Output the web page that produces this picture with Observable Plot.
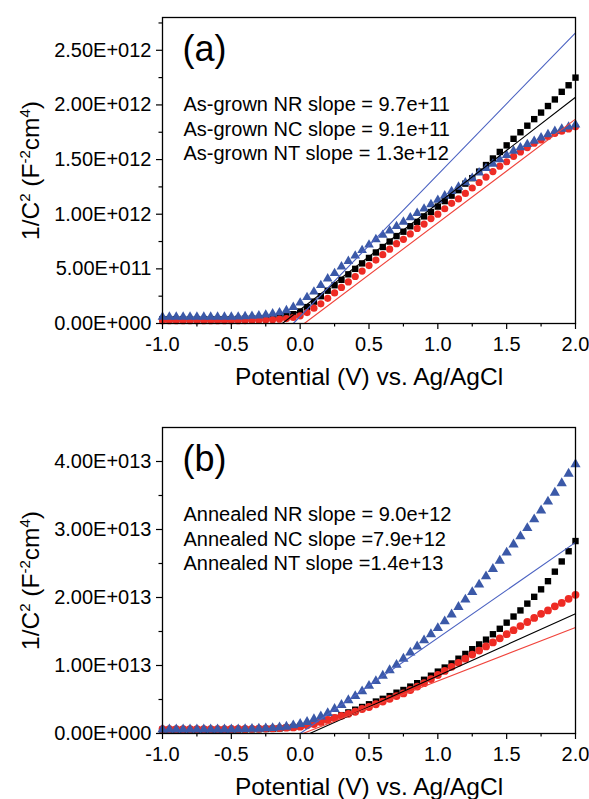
<!DOCTYPE html>
<html><head><meta charset="utf-8">
<script src="https://cdn.jsdelivr.net/npm/d3@7"></script>
<script src="https://cdn.jsdelivr.net/npm/@observablehq/plot@0.6"></script>
<style>
html,body{margin:0;padding:0;background:#fff;}
#chart{width:589px;height:799px;font-family:"Liberation Sans",Arial,sans-serif;}
#chart svg{display:block;}
</style></head><body><div id="chart"></div>
<script>
// Potential (V) vs Ag/AgCl
const potentials = [-1.0,-0.95,-0.9,-0.85,-0.8,-0.75,-0.7,-0.65,-0.6,-0.55,
  -0.5,-0.45,-0.4,-0.35,-0.3,-0.25,-0.2,-0.15,-0.1,-0.05,
  0.0,0.05,0.1,0.15,0.2,0.25,0.3,0.35,0.4,0.45,
  0.5,0.55,0.6,0.65,0.7,0.75,0.8,0.85,0.9,0.95,
  1.0,1.05,1.1,1.15,1.2,1.25,1.3,1.35,1.4,1.45,
  1.5,1.55,1.6,1.65,1.7,1.75,1.8,1.85,1.9,1.95,2.0];

const seriesNames = ["NR","NC","NT"];
const seriesColors = ["#000000","#ee2b24","#3b59a8"];
const fitColors = ["#000000","#f0443c","#4c63c2"];
const seriesSymbols = ["square","circle","triangle"];

// Panel (a): as-grown, 1/C^2 in units of 1e12
const nrA = [0.04,0.04,0.04,0.04,0.04,0.04,0.04,0.04,0.04,0.04,
  0.04,0.042,0.044,0.046,0.048,0.05,0.055,0.06,0.07,0.085,
  0.11,0.15,0.20,0.25,0.30,0.35,0.40,0.45,0.50,0.55,
  0.60,0.65,0.70,0.75,0.80,0.84,0.89,0.93,0.98,1.02,
  1.07,1.12,1.17,1.22,1.28,1.33,1.39,1.45,1.51,1.57,
  1.63,1.69,1.75,1.81,1.87,1.93,1.99,2.05,2.12,2.18,2.25];
const ncA = [0.025,0.025,0.025,0.025,0.025,0.025,0.025,0.025,0.025,0.025,
  0.025,0.026,0.027,0.028,0.03,0.032,0.035,0.04,0.045,0.055,
  0.07,0.10,0.14,0.18,0.23,0.28,0.33,0.38,0.43,0.48,
  0.53,0.58,0.63,0.68,0.73,0.77,0.82,0.87,0.91,0.96,
  1.00,1.05,1.10,1.14,1.19,1.24,1.29,1.34,1.39,1.44,
  1.48,1.53,1.57,1.61,1.65,1.68,1.71,1.74,1.76,1.78,1.80];
const ntA = [0.06,0.06,0.06,0.06,0.06,0.06,0.06,0.06,0.06,0.06,
  0.06,0.062,0.065,0.068,0.072,0.08,0.09,0.10,0.12,0.15,
  0.19,0.24,0.29,0.35,0.41,0.46,0.52,0.57,0.62,0.67,
  0.72,0.77,0.81,0.85,0.89,0.93,0.97,1.01,1.05,1.09,
  1.13,1.17,1.21,1.25,1.29,1.33,1.38,1.42,1.46,1.50,
  1.54,1.58,1.61,1.64,1.67,1.70,1.73,1.76,1.78,1.80,1.82];
// linear fits: x where fit crosses zero, and fit value at 2.0 V
const fitStartA = [-0.13, 0.03, -0.05];
const fitEndA = [2.07, 1.87, 2.66];
const yTicksA = [0,0.5,1,1.5,2,2.5];
const yTickLabelsA = ["0.00E+000","5.00E+011","1.00E+012","1.50E+012","2.00E+012","2.50E+012"];
const yMinorA = [0.25,0.75,1.25,1.75,2.25,2.75];
const notesA = ["As-grown NR slope = 9.7e+11","As-grown NC slope = 9.1e+11","As-grown NT slope = 1.3e+12"];

// Panel (b): annealed, 1/C^2 in units of 1e13
const nrB = [0.055,0.055,0.055,0.055,0.055,0.055,0.055,0.055,0.055,0.055,
  0.056,0.058,0.06,0.062,0.064,0.067,0.07,0.075,0.085,0.095,
  0.11,0.13,0.15,0.17,0.20,0.23,0.27,0.31,0.35,0.39,
  0.43,0.47,0.51,0.55,0.60,0.64,0.69,0.74,0.79,0.85,
  0.91,0.97,1.03,1.10,1.17,1.24,1.31,1.38,1.46,1.54,
  1.63,1.72,1.81,1.91,2.01,2.12,2.24,2.38,2.53,2.68,2.83];
const ncB = [0.065,0.065,0.065,0.065,0.065,0.065,0.065,0.065,0.065,0.065,
  0.066,0.067,0.068,0.069,0.07,0.072,0.075,0.08,0.085,0.09,
  0.10,0.12,0.14,0.17,0.20,0.23,0.26,0.29,0.32,0.36,
  0.39,0.43,0.47,0.51,0.55,0.59,0.64,0.69,0.74,0.80,
  0.86,0.92,0.98,1.04,1.10,1.16,1.22,1.28,1.34,1.40,
  1.46,1.52,1.58,1.64,1.70,1.76,1.81,1.87,1.92,1.98,2.04];
const ntB = [0.06,0.06,0.06,0.06,0.06,0.06,0.06,0.06,0.06,0.06,
  0.06,0.062,0.065,0.068,0.07,0.075,0.08,0.09,0.10,0.12,
  0.14,0.17,0.21,0.25,0.30,0.36,0.42,0.49,0.55,0.62,
  0.70,0.77,0.85,0.93,1.01,1.10,1.19,1.28,1.37,1.46,
  1.55,1.65,1.75,1.86,1.97,2.08,2.19,2.31,2.42,2.54,
  2.66,2.78,2.90,3.02,3.15,3.28,3.41,3.54,3.68,3.82,3.96];
const fitStartB = [0.07, 0.02, 0.0];
const fitEndB = [1.76, 1.56, 2.81];
const yTicksB = [0,1,2,3,4];
const yTickLabelsB = ["0.00E+000","1.00E+013","2.00E+013","3.00E+013","4.00E+013"];
const yMinorB = [0.5,1.5,2.5,3.5];
const notesB = ["Annealed NR slope = 9.0e+12","Annealed NC slope =7.9e+12","Annealed NT slope =1.4e+13"];

const xTicks = [-1,-0.5,0,0.5,1,1.5,2];
const xTickLabels = ["-1.0","-0.5","0.0","0.5","1.0","1.5","2.0"];
const xMinor = [-0.75,-0.25,0.25,0.75,1.25,1.75];
const xTitle = "Potential (V) vs. Ag/AgCl";
const yTitleParts = [["1/C",false],["2",true],[" (F",false],["-2",true],["cm",false],["4",true],[")",false]];
const yTitlePlain = yTitleParts.map(d => d[0]).join("");
const xMax = 2;

function makePanel({series, fitStart, fitEnd, yTicks, yLabels, yMinor, yMax, tag, notes, height, marginTop, marginBottom, radii}) {
  const marks = [];
  series.forEach((vals, s) => {
    const rows = potentials.map((x, i) => ({x, y: vals[i]}));
    marks.push(Plot.dot(rows, {x: "x", y: "y", symbol: () => seriesSymbols[s], fill: seriesColors[s], stroke: "none", r: radii[s]}));
  });
  series.forEach((vals, s) => {
    const line = [{x: fitStart[s], y: 0}, {x: xMax, y: fitEnd[s]}];
    marks.push(Plot.line(line, {x: "x", y: "y", stroke: fitColors[s], strokeWidth: 1.1}));
  });
  const yLab = new Map(yTicks.map((t, i) => [t, yLabels[i]]));
  const xLab = new Map(xTicks.map((t, i) => [t, xTickLabels[i]]));
  marks.push(
    Plot.frame({stroke: "#000", strokeWidth: 1.3}),
    Plot.axisY(yTicks, {tickSize: 6, tickPadding: 5, tickFormat: d => yLab.get(d), fontSize: 20, label: null, strokeWidth: 1.2}),
    Plot.axisY(yMinor, {tickSize: 3.5, tickFormat: () => "", label: null, strokeWidth: 1.2}),
    Plot.axisX(xTicks, {tickSize: 6, tickPadding: 7, tickFormat: d => xLab.get(d), fontSize: 20, label: null, strokeWidth: 1.2}),
    Plot.axisX(xMinor, {tickSize: 3.5, tickFormat: () => "", label: null, strokeWidth: 1.2}),
    Plot.text([tag], {frameAnchor: "top-left", dx: 20, dy: 32, fontSize: 36, lineAnchor: "middle", textAnchor: "start"}),
    Plot.text([notes.join("\n")], {frameAnchor: "top-left", dx: 21, dy: 110.5, fontSize: 20, lineHeight: 1.23, lineAnchor: "middle", textAnchor: "start"}),
    Plot.text([xTitle], {frameAnchor: "bottom", dy: 54, fontSize: 24.5, lineAnchor: "middle"}),
    Plot.text([yTitlePlain], {frameAnchor: "left", dx: -131, rotate: -90, fontSize: 24.5, lineAnchor: "middle", textAnchor: "middle"})
  );
  const svg = Plot.plot({
    width: 589, height, marginLeft: 162, marginRight: 14, marginTop, marginBottom,
    style: {fontFamily: "'Liberation Sans', Arial, sans-serif", color: "#000", background: "#fff", overflow: "visible"},
    x: {domain: [-1, 2]},
    y: {domain: [0, yMax]},
    marks
  });
  d3.select(svg).selectAll("text").filter(function() { return this.textContent === yTitlePlain; }).each(function() {
    const t = d3.select(this);
    t.text(null);
    let shifted = false;
    yTitleParts.forEach(([str, sup]) => {
      const sp = t.append("tspan").text(str);
      if (sup && !shifted) { sp.attr("dy", -9).attr("font-size", 15); shifted = true; }
      else if (sup) { sp.attr("font-size", 15); }
      else if (!sup && shifted) { sp.attr("dy", 9); shifted = false; }
    });
  });
  return svg;
}

const chart = document.getElementById("chart");
chart.appendChild(makePanel({series: [nrA, ncA, ntA], fitStart: fitStartA, fitEnd: fitEndA, yTicks: yTicksA, yLabels: yTickLabelsA, yMinor: yMinorA, yMax: 2.8, tag: "(a)", notes: notesA, height: 400, marginTop: 17, marginBottom: 77, radii: [3.6, 3.6, 3.6]}));
chart.appendChild(makePanel({series: [nrB, ncB, ntB], fitStart: fitStartB, fitEnd: fitEndB, yTicks: yTicksB, yLabels: yTickLabelsB, yMinor: yMinorB, yMax: 4.5, tag: "(b)", notes: notesB, height: 399, marginTop: 27, marginBottom: 66, radii: [3.6, 3.9, 3.8]}));
</script></body></html>
